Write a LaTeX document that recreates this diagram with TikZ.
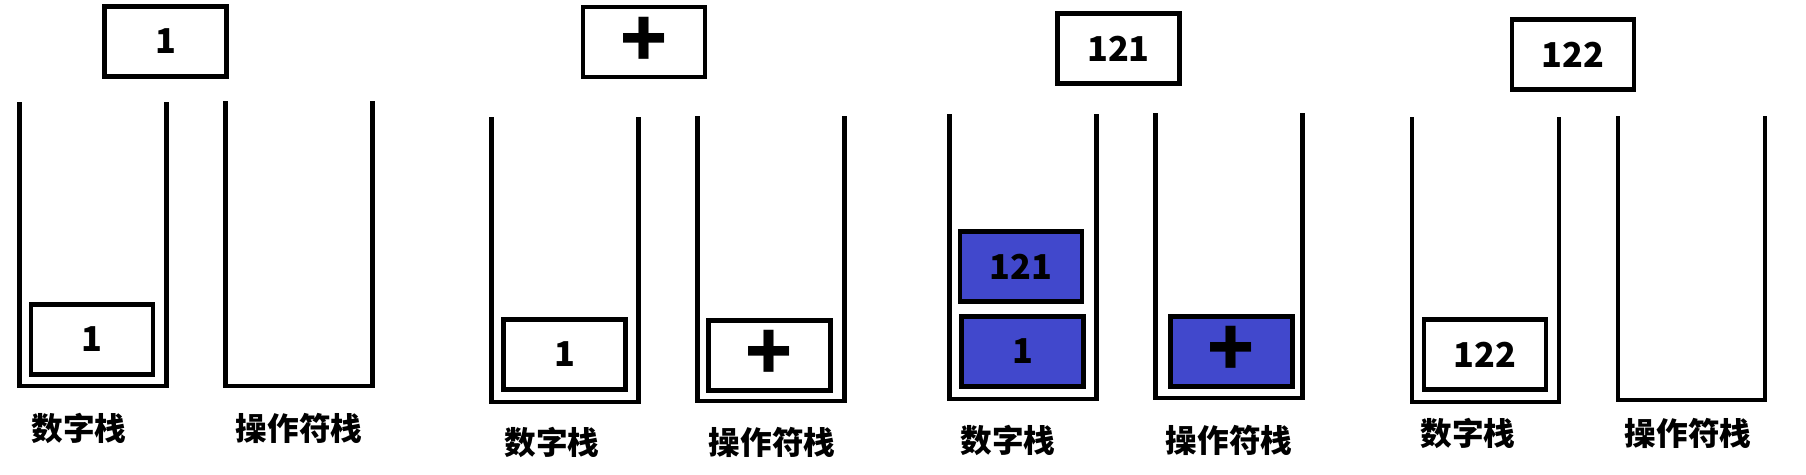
\documentclass[tikz,border=0pt]{standalone}
\usepackage{fontspec}
\newfontfamily\cjk{Noto Sans CJK SC}
\definecolor{stk}{RGB}{65,72,204}
\tikzset{
  wall/.style={line width=2.8pt},
  box/.style={draw,line width=2.8pt,minimum width=2.44cm,minimum height=1.4cm,inner sep=0pt,font=\cjk\bfseries\fontsize{19.5}{20}\selectfont},
  pbox/.style={box,font=\cjk\bfseries\fontsize{44}{44}\selectfont},
  fbox/.style={fill=stk},
  lab/.style={font=\cjk\bfseries\fontsize{18}{20}\selectfont}
}
\newcommand{\stk}[3]{\draw[wall] (#1,#2) -- (#1,#3) -- (#1+147,#3) -- (#1+147,#2);}

\begin{document}
\begin{tikzpicture}[x=0.02cm,y=-0.02cm]
\useasboundingbox (0,0) rectangle (1806,474);
\node[box] (cur1) at (165.5,41.5) {1};
\stk{19.5}{102}{386} \stk{225.5}{101}{386}
\node[box] (n1a) at (92,339.5) {1};
\node[lab] (numlab1) at (79,428) {数字栈};
\node[lab] (oplab1) at (299,428) {操作符栈};
\node[pbox] (cur2) at (644,42) {+};
\stk{491.3}{117}{402} \stk{697.3}{116}{401}
\node[box] (n2a) at (564.5,354.5) {1};
\node[pbox] (o2a) at (769.5,355.5) {+};
\node[lab] (numlab2) at (552,442) {数字栈};
\node[lab] (oplab2) at (772,442) {操作符栈};
\node[box] (cur3) at (1118.5,48.5) {121};
\stk{949.3}{114}{399} \stk{1155.3}{113}{398}
\node[box,fbox] (n3b) at (1021,266.5) {121};
\node[box,fbox] (n3a) at (1022.5,351.5) {1};
\node[pbox,fbox] (o3a) at (1231.5,351.5) {+};
\node[lab] (numlab3) at (1008,440) {数字栈};
\node[lab] (oplab3) at (1229,440) {操作符栈};
\node[box] (cur4) at (1573,54.5) {122};
\stk{1412}{117}{402} \stk{1618}{116}{400}
\node[box] (n4a) at (1485,354.5) {122};
\node[lab] (numlab4) at (1468,433) {数字栈};
\node[lab] (oplab4) at (1688,433) {操作符栈};
\end{tikzpicture}
\end{document}
